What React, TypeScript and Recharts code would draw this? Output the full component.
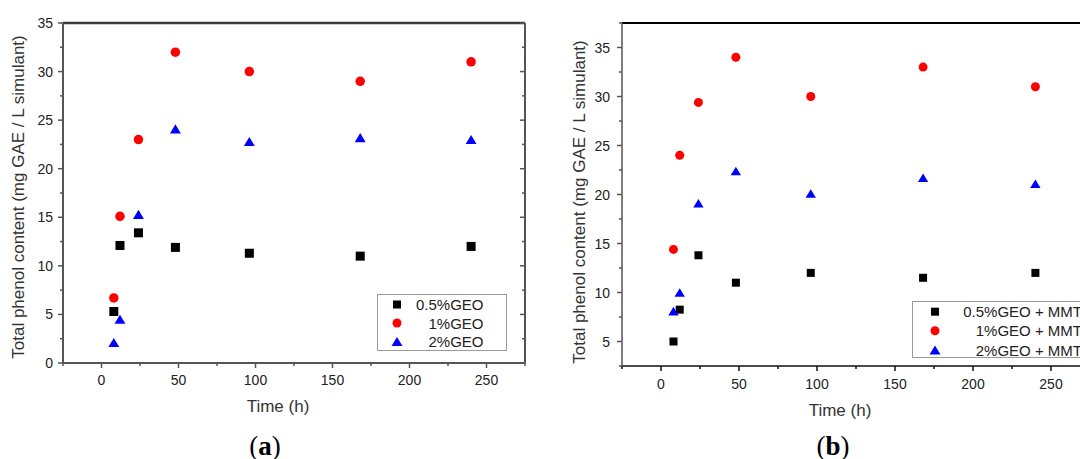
import React from "react";
import { ScatterChart, Scatter, XAxis, YAxis, Legend, ReferenceLine } from "recharts";

// sampling times (h)
const times = [8, 12, 24, 48, 96, 168, 240];

// (a) GEO films
const geo05 = [5.3, 12.1, 13.4, 11.9, 11.3, 11.0, 12.0];
const geo1 = [6.7, 15.1, 23.0, 32.0, 30.0, 29.0, 31.0];
const geo2 = [2.1, 4.5, 15.3, 24.1, 22.8, 23.2, 23.0];

// (b) GEO + MMT films
const mmt05 = [5.0, 8.25, 13.8, 11.0, 12.0, 11.5, 12.0];
const mmt1 = [14.4, 24.0, 29.4, 34.0, 30.0, 33.0, 31.0];
const mmt2 = [8.1, 10.0, 19.1, 22.4, 20.1, 21.7, 21.1];

const xTicks = [-25, 0, 25, 50, 75, 100, 125, 150, 175, 200, 225, 250, 275];
const yTicksA = [0, 2.5, 5, 7.5, 10, 12.5, 15, 17.5, 20, 22.5, 25, 27.5, 30, 32.5, 35];
const yTicksB = [2.5, 5, 7.5, 10, 12.5, 15, 17.5, 20, 22.5, 25, 27.5, 30, 32.5, 35, 37.5];

const namesA = ["0.5%GEO", "1%GEO", "2%GEO"];
const namesB = ["0.5%GEO + MMT", "1%GEO + MMT", "2%GEO + MMT"];

const FONT = '"Liberation Sans", Arial, sans-serif';
const kinds = ["square", "circle", "triangle"];
const colors = ["#000000", "#ff0000", "#0000ff"];

const toPoints = (vals: number[]) => times.map((t, i) => ({ x: t, y: vals[i] }));

const Marker = ({ kind, cx, cy, fill, s }: any) => {
  if (kind === "square")
    return <rect x={cx - s / 2} y={cy - s / 2} width={s} height={s} fill={fill} />;
  if (kind === "circle") return <circle cx={cx} cy={cy} r={s / 2} fill={fill} />;
  const w = s * 1.15;
  const h = s * 0.95;
  return (
    <polygon
      points={`${cx},${cy - h / 2} ${cx - w / 2},${cy + h / 2} ${cx + w / 2},${cy + h / 2}`}
      fill={fill}
    />
  );
};

const YTick = (props: any) => {
  const { x, y, payload, gap, stroke, showLabel } = props;
  const major = payload.value % 5 === 0;
  const len = major ? 5 : 3;
  return (
    <g>
      <line x1={x - len} x2={x} y1={y} y2={y} stroke={stroke} strokeWidth={1.5} />
      {showLabel && major && (
        <text
          x={x - gap}
          y={y}
          textAnchor="end"
          dominantBaseline="central"
          fontSize={14}
          fontFamily={FONT}
          fill="#222"
        >
          {payload.value}
        </text>
      )}
    </g>
  );
};

const XTick = (props: any) => {
  const { x, y, payload, gap, stroke } = props;
  const v = payload.value;
  const major = v % 50 === 0;
  const len = major ? 5 : 3;
  return (
    <g>
      <line x1={x} x2={x} y1={y} y2={y + len} stroke={stroke} strokeWidth={1.5} />
      {major && v >= 0 && v <= 250 && (
        <text
          x={x}
          y={y + gap}
          textAnchor="middle"
          dominantBaseline="central"
          fontSize={14}
          fontFamily={FONT}
          fill="#222"
        >
          {v}
        </text>
      )}
    </g>
  );
};

const LegendBox = (props: any) => {
  const { payload, box } = props;
  const items = (payload || []).filter((e: any) => e.type !== "none");
  return (
    <div
      style={{
        width: box.w,
        height: box.h,
        border: `1.5px solid ${box.border}`,
        background: "#fff",
        boxSizing: "border-box",
      }}
    >
      <svg width={box.w} height={box.h} style={{ display: "block", marginLeft: -1.5, marginTop: -1.5 }}>
        {items.map((e: any, i: number) => {
          const idx = box.names.indexOf(e.value);
          return (
            <g key={e.value}>
              <Marker kind={kinds[idx]} cx={box.mx} cy={box.rows[i]} fill={e.color} s={box.sizes[idx]} />
              <text
                x={box.tx}
                y={box.rows[i]}
                textAnchor="end"
                dominantBaseline="central"
                fontSize={15}
                fontFamily={FONT}
                fill="#222"
              >
                {e.value}
              </text>
            </g>
          );
        })}
      </svg>
    </div>
  );
};

function Panel(p: any) {
  const axisStyle = { stroke: p.axisColor, strokeWidth: p.axisWidth };
  return (
    <div style={{ position: "absolute", left: p.left, top: 0 }}>
      <ScatterChart
        width={p.width}
        height={459}
        margin={{ top: 23, right: p.marginRight, left: 0, bottom: 0 }}
      >
        <XAxis
          dataKey="x"
          type="number"
          domain={[-25, 275]}
          ticks={xTicks}
          interval={0}
          height={p.xHeight}
          tickSize={0}
          tickMargin={0}
          tickLine={false}
          axisLine={axisStyle}
          tick={<XTick gap={p.xGap} stroke={p.axisColor} />}
          allowDataOverflow
          label={() => (
            <text
              x={p.timePos[0]}
              y={p.timePos[1]}
              textAnchor="middle"
              dominantBaseline="central"
              fontSize={17}
              fontFamily={FONT}
              fill="#333"
            >
              Time (h)
            </text>
          )}
        />
        <YAxis
          dataKey="y"
          type="number"
          domain={p.yDomain}
          ticks={p.yTicks}
          interval={0}
          width={p.yWidth}
          tickSize={0}
          tickMargin={0}
          tickLine={false}
          axisLine={{ stroke: p.yAxisColor, strokeWidth: p.axisWidth }}
          tick={<YTick gap={p.yGap} stroke={p.yAxisColor} showLabel />}
          allowDataOverflow
          label={() => (
            <text
              x={p.yTitlePos[0]}
              y={p.yTitlePos[1]}
              textAnchor="middle"
              dominantBaseline="central"
              transform={`rotate(-90 ${p.yTitlePos[0]} ${p.yTitlePos[1]})`}
              fontSize={17}
              fontFamily={FONT}
              fill="#333"
            >
              Total phenol content (mg GAE / L simulant)
            </text>
          )}
        />
        {p.rightFrame && (
          <YAxis
            yAxisId="right"
            orientation="right"
            type="number"
            domain={p.yDomain}
            ticks={p.yTicks}
            interval={0}
            width={15}
            tickSize={0}
            tickMargin={0}
            tickLine={false}
            axisLine={axisStyle}
            tick={<YTick gap={0} stroke={p.axisColor} />}
            allowDataOverflow
          />
        )}
        <ReferenceLine
          y={p.yDomain[1]}
          stroke={p.topColor}
          strokeWidth={p.topWidth}
          ifOverflow="visible"
        />
        <Legend
          layout="vertical"
          align="center"
          verticalAlign="middle"
          wrapperStyle={{ left: p.legend.x, top: p.legend.y, width: p.legend.w, height: p.legend.h }}
          content={(lp: any) => <LegendBox payload={lp.payload} box={p.legend} />}
        />
        {p.series.map((vals: number[], i: number) => (
          <Scatter
            key={p.names[i]}
            name={p.names[i]}
            data={toPoints(vals)}
            fill={colors[i]}
            isAnimationActive={false}
            shape={(sp: any) => (
              <Marker kind={kinds[i]} cx={sp.cx} cy={sp.cy} fill={colors[i]} s={p.sizes[i]} />
            )}
          />
        ))}
      </ScatterChart>
    </div>
  );
}

const capStyle: React.CSSProperties = {
  position: "absolute",
  top: 446,
  transform: "translate(-50%, -50%)",
  fontFamily: '"Liberation Serif", "DejaVu Serif", serif',
  fontSize: 27,
  color: "#000",
  whiteSpace: "nowrap",
};

export default function App() {
  return (
    <div
      style={{
        position: "absolute",
        left: 0,
        top: 0,
        width: 1080,
        height: 459,
        overflow: "hidden",
        background: "#fff",
      }}
    >
      <Panel
        left={0}
        width={540}
        marginRight={0}
        xHeight={96}
        yWidth={63}
        yDomain={[0, 35]}
        yTicks={yTicksA}
        axisColor="#555"
        yAxisColor="#555"
        axisWidth={2}
        topColor="#3a3a3a"
        topWidth={2.5}
        xGap={16.5}
        yGap={10}
        rightFrame
        timePos={[278, 406]}
        yTitlePos={[18, 197]}
        names={namesA}
        series={[geo05, geo1, geo2]}
        sizes={[9, 9.5, 9.5]}
        legend={{
          x: 377,
          y: 294,
          w: 130,
          h: 57,
          border: "#999",
          mx: 20,
          tx: 106.5,
          rows: [10.5, 29, 47.5],
          names: namesA,
          sizes: [8, 9, 9.5],
        }}
      />
      <Panel
        left={540}
        width={560}
        marginRight={10}
        xHeight={93}
        yWidth={82}
        yDomain={[2.5, 37.5]}
        yTicks={yTicksB}
        axisColor="#111"
        yAxisColor="#555"
        axisWidth={1.5}
        topColor="#000"
        topWidth={2}
        xGap={18}
        yGap={12}
        rightFrame={false}
        timePos={[300, 410]}
        yTitlePos={[39, 202]}
        names={namesB}
        series={[mmt05, mmt1, mmt2]}
        sizes={[8, 9, 9]}
        legend={{
          x: 372,
          y: 301,
          w: 190,
          h: 57,
          border: "#999",
          mx: 23,
          tx: 170,
          rows: [10.7, 29.7, 49],
          names: namesB,
          sizes: [8, 9, 9.5],
        }}
      />
      <div style={{ ...capStyle, left: 265 }}>
        (<b>a</b>)
      </div>
      <div style={{ ...capStyle, left: 833 }}>
        (<b>b</b>)
      </div>
    </div>
  );
}
